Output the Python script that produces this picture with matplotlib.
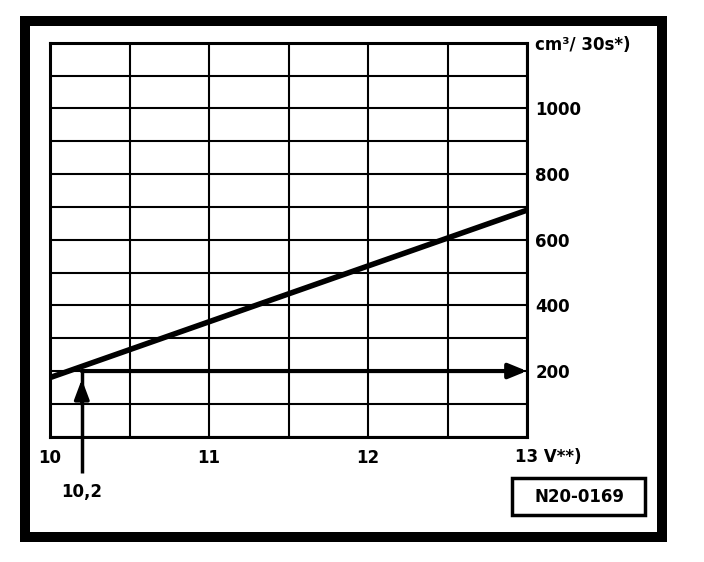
import matplotlib
matplotlib.use('Agg')
import matplotlib.pyplot as plt
from matplotlib.patches import Rectangle

# data
voltage = [10, 13]
volume = [180, 690]
x_grid = [10, 10.5, 11, 11.5, 12, 12.5, 13]
x_labels = ['10', '', '11', '', '12', '', '']
y_grid = [0, 100, 200, 300, 400, 500, 600, 700, 800, 900, 1000, 1100, 1200]
y_labels = ['', '', '200', '', '400', '', '600', '', '800', '', '1000', '', 'cm³/ 30s*)']
read_v = 10.2
read_q = 200
read_label = '10,2'
x_last = '13 V**)'
code = 'N20-0169'

W, H = 704, 562
fig = plt.figure(figsize=(W / 100, H / 100), dpi=100)
plt.rcParams['font.family'] = ['DejaVu Sans']

def fx(px):
    return px / W

def fy(py):
    return 1 - py / H

ax = fig.add_axes([fx(50), fy(436.7), fx(527) - fx(50), fy(42.7) - fy(436.7)])
ax.set_xlim(10, 13)
ax.set_ylim(0, 1200)

ax.set_xticks(x_grid)
ax.set_xticklabels(x_labels, fontsize=12, fontweight='bold')
ax.set_yticks(y_grid)
ax.set_yticklabels(y_labels, fontsize=12, fontweight='bold')
ax.yaxis.tick_right()
ax.tick_params(length=0)
ax.tick_params(axis='x', pad=9)
ax.tick_params(axis='y', pad=6)
ax.grid(True, color='black', linewidth=1.5)
for s in ax.spines.values():
    s.set_linewidth(2.2)

# characteristic line
ax.plot(voltage, volume, color='black', linewidth=4, solid_capstyle='butt')

# reading: horizontal arrow at 200
ax.annotate('', xy=(13, read_q), xytext=(read_v, read_q),
            arrowprops=dict(arrowstyle='-|>,head_length=1.1,head_width=0.45',
                            color='black', lw=3, shrinkA=0, shrinkB=0))
# vertical arrow from 10,2
ax.plot([read_v, read_v], [-110, read_q], color='black', linewidth=2.5,
        clip_on=False, solid_capstyle='butt')
ax.annotate('', xy=(read_v, 175), xytext=(read_v, 100),
            arrowprops=dict(arrowstyle='-|>,head_length=1.2,head_width=0.45',
                            color='black', lw=2.5, shrinkA=0, shrinkB=0),
            annotation_clip=False)
ax.annotate(read_label, xy=(read_v, 0), xytext=(0, -40), textcoords='offset points',
            ha='center', va='center', fontsize=12, fontweight='bold',
            annotation_clip=False)
ax.annotate(x_last, xy=(13, 0), xytext=(-9, -14.5), textcoords='offset points',
            ha='left', va='center', fontsize=12, fontweight='bold',
            annotation_clip=False)

# code box
fig.add_artist(Rectangle((fx(512), fy(515)), fx(645) - fx(512), fy(478) - fy(515),
                         transform=fig.transFigure, fill=False,
                         edgecolor='black', linewidth=2.5))
fig.text(fx(579), fy(497), code, ha='center', va='center',
         fontsize=12, fontweight='bold')

# outer frame
fig.add_artist(Rectangle((fx(25), fy(537)), fx(662) - fx(25), fy(21) - fy(537),
                         transform=fig.transFigure, fill=False,
                         edgecolor='black', linewidth=7.2))

fig.savefig('out.png', dpi=100)
